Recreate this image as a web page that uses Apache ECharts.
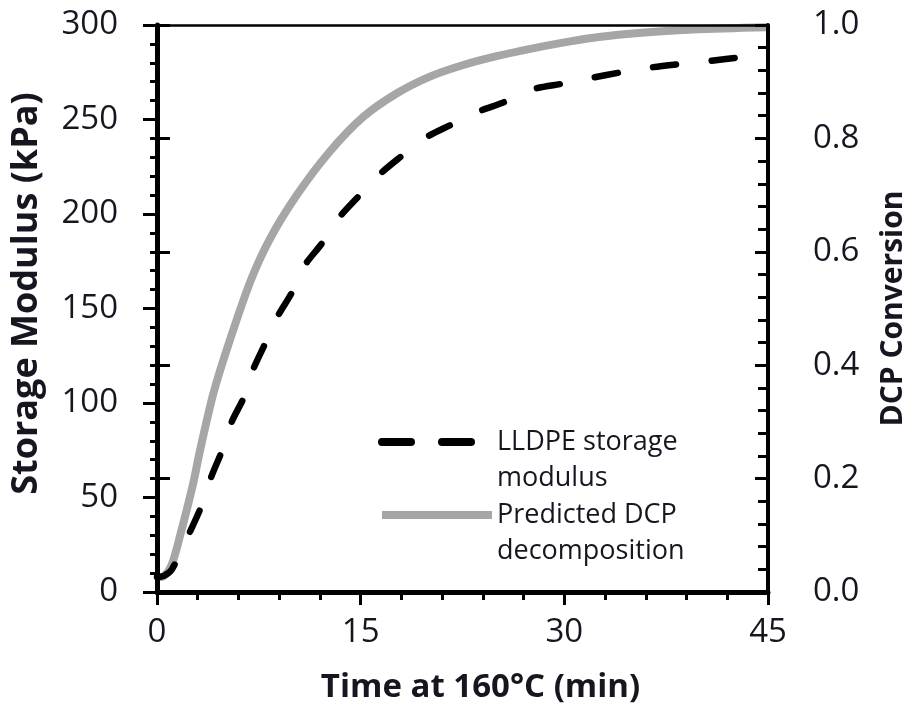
<!DOCTYPE html>
<html>
<head>
<meta charset="utf-8">
<script src="https://cdn.jsdelivr.net/npm/echarts@6/dist/echarts.min.js"></script>
<style>
html,body{margin:0;padding:0;background:#fff;}
#chart{width:906px;height:705px;}
</style>
</head>
<body>
<div id="chart"></div>
<script>
// ---- data ----
var modulusTime = [0, 0.5, 1.1, 2.5, 3.3, 4.0, 4.8, 5.5, 6.4, 7.1, 8.0, 8.9, 9.9, 10.9, 12.1, 13.4, 14.8, 16.4, 17.9, 19.7, 21.6, 23.6, 25.5, 27.7, 29.9, 32.0, 34.2, 36.3, 38.7, 40.7, 43.1, 45];
var modulusValue = [8, 8.5, 12, 33, 46, 61, 75, 90, 103, 118, 132, 146, 158, 173, 184, 198, 209, 221, 230, 240, 247, 254, 259, 266, 269, 272, 275, 277.5, 279.5, 281, 283, 284];
var dcpTime = [0, 0.5, 1.08, 1.75, 2.67, 3.17, 4.15, 5.13, 6.85, 8.3, 10.3, 12.7, 15.2, 17.7, 20.1, 22.5, 25, 27.5, 29.7, 32, 34.6, 39.5, 45];
var dcpValue = [0.026, 0.028, 0.048, 0.104, 0.192, 0.25, 0.35, 0.427, 0.546, 0.622, 0.70, 0.776, 0.838, 0.88, 0.909, 0.929, 0.945, 0.958, 0.968, 0.977, 0.984, 0.992, 0.996];
var seriesNames = ['LLDPE storage\nmodulus', 'Predicted DCP\ndecomposition'];
var xTitle = 'Time at 160°C (min)';
var yLeftTitle = 'Storage Modulus (kPa)';
var yRightTitle = 'DCP Conversion';

function pairs(xs, ys){ return xs.map(function(x,i){ return [x, ys[i]]; }); }

var FONT = 'Open Sans';
var TXT = '#161620';
var chart = echarts.init(document.getElementById('chart'), null, {renderer:'canvas'});
var legendText = {fontFamily: FONT, fontSize: 27, color: TXT, lineHeight: 36};
var option = {
  animation: false,
  backgroundColor: '#ffffff',
  textStyle: {fontFamily: FONT},
  grid: {left: 157, right: 138, top: 25, bottom: 113, containLabel: false, outerBoundsMode: 'none'},
  xAxis: [{
    type: 'value', min: 0, max: 45, interval: 15, z: 5,
    name: xTitle, nameLocation: 'middle', nameGap: 79,
    nameTextStyle: {fontFamily: FONT, fontWeight: 'bold', fontSize: 33, color: TXT, padding: [0,0,0,36]},
    axisLine: {show: true, onZero: false, lineStyle: {color: '#000', width: 5}},
    axisTick: {show: true, inside: false, length: 13, lineStyle: {color: '#000', width: 3}},
    minorTick: {show: true, splitNumber: 5, length: 8, lineStyle: {color: '#000', width: 3}},
    axisLabel: {margin: 24, fontFamily: FONT, fontSize: 33, color: TXT},
    splitLine: {show: false}, minorSplitLine: {show: false}
  }, {
    type: 'value', position: 'top', min: 0, max: 45, z: 5,
    axisLine: {show: true, onZero: false, lineStyle: {color: '#000', width: 2.5}},
    axisTick: {show: false}, axisLabel: {show: false}, splitLine: {show: false}
  }],
  yAxis: [{
    type: 'value', position: 'left', min: 0, max: 300, interval: 50, z: 5,
    name: yLeftTitle, nameLocation: 'middle', nameGap: 112, nameRotate: 90,
    nameTextStyle: {fontFamily: FONT, fontWeight: 'bold', fontSize: 36, color: TXT, padding: [0,0,0,30]},
    axisLine: {show: true, onZero: false, lineStyle: {color: '#000', width: 5}},
    axisTick: {show: true, inside: false, length: 14, lineStyle: {color: '#000', width: 3}},
    minorTick: {show: true, splitNumber: 5, length: 7, lineStyle: {color: '#000', width: 3}},
    axisLabel: {margin: 39, fontFamily: FONT, fontSize: 33, color: TXT},
    splitLine: {show: false}, minorSplitLine: {show: false}
  }, {
    type: 'value', position: 'right', min: 0, max: 1, interval: 0.2, z: 5,
    name: yRightTitle, nameLocation: 'middle', nameGap: 110, nameRotate: 90,
    nameTextStyle: {fontFamily: FONT, fontWeight: 'bold', fontSize: 30, color: TXT},
    axisLine: {show: true, onZero: false, lineStyle: {color: '#000', width: 4}},
    axisTick: {show: true, inside: true, length: 13, lineStyle: {color: '#000', width: 3}},
    minorTick: {show: true, splitNumber: 5, length: 10, lineStyle: {color: '#000', width: 3}},
    axisLabel: {margin: 45, fontFamily: FONT, fontSize: 33, color: TXT,
      formatter: function(v){ return v.toFixed(1); }},
    splitLine: {show: false}, minorSplitLine: {show: false}
  }, {
    type: 'value', position: 'right', min: 0, max: 1, interval: 0.2, z: 5,
    axisLine: {show: false},
    axisTick: {show: true, inside: false, length: 13, lineStyle: {color: '#000', width: 3}},
    axisLabel: {show: false}, splitLine: {show: false}
  }],
  legend: [{
    data: [seriesNames[0]], left: 378, top: 388, padding: 0, orient: 'vertical',
    itemWidth: 110, itemHeight: 14,
    itemStyle: {opacity: 0, borderWidth: 0},
    lineStyle: {type: [29, 31], width: 8, cap: 'round', color: '#000'},
    formatter: function(n){ return ' \n' + n; },
    textStyle: legendText
  }, {
    data: [seriesNames[1]], left: 378, top: 461, padding: 0, orient: 'vertical',
    itemWidth: 110, itemHeight: 14,
    itemStyle: {opacity: 0, borderWidth: 0},
    lineStyle: {width: 8, color: '#a6a6a6'},
    formatter: function(n){ return ' \n' + n; },
    textStyle: legendText
  }],
  series: [{
    name: seriesNames[1], type: 'line', xAxisIndex: 0, yAxisIndex: 1,
    data: pairs(dcpTime, dcpValue), smooth: 0.3, showSymbol: false, symbol: 'none',
    lineStyle: {color: '#a6a6a6', width: 8}, itemStyle: {color: '#a6a6a6'}, z: 2
  }, {
    name: seriesNames[0], type: 'line', xAxisIndex: 0, yAxisIndex: 0,
    data: pairs(modulusTime, modulusValue), smooth: 0.3, showSymbol: false, symbol: 'none',
    lineStyle: {color: '#000', width: 6.5, type: [23, 36], cap: 'round'}, itemStyle: {color: '#000'}, z: 3
  }]
};
chart.setOption(option);
</script>
</body>
</html>
